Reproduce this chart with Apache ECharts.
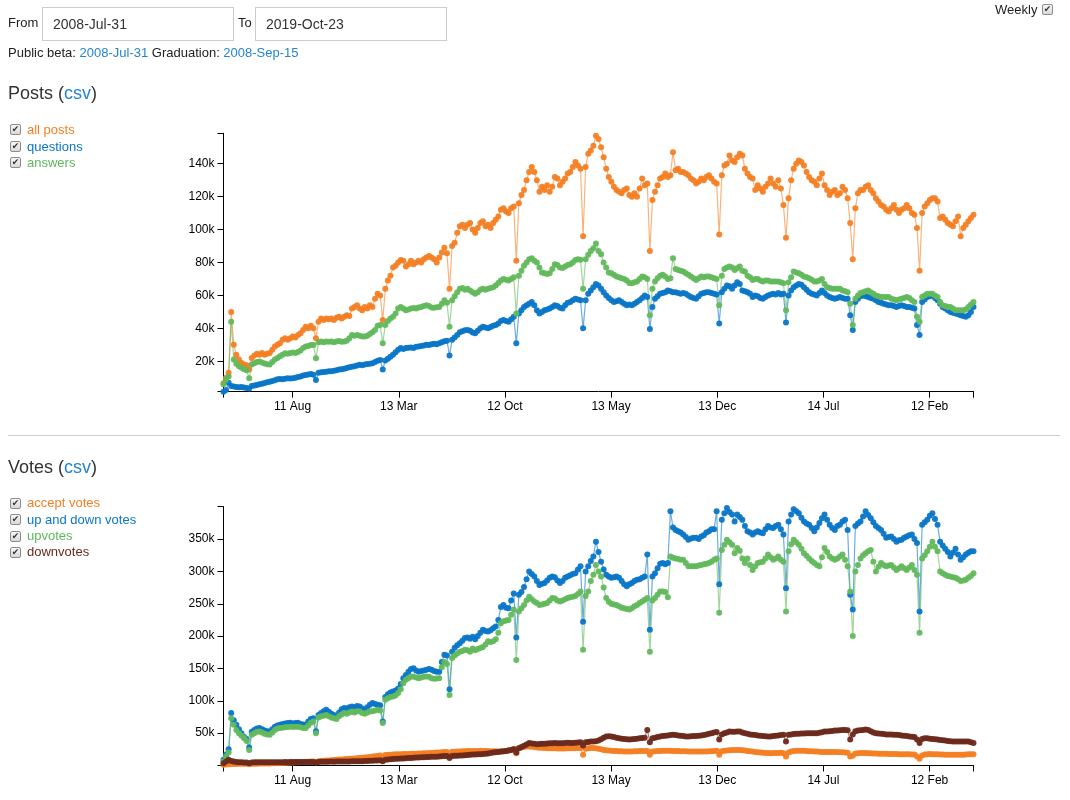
<!DOCTYPE html>
<html><head><meta charset="utf-8">
<script src="https://cdn.jsdelivr.net/npm/echarts@6/dist/echarts.min.js"></script>
<style>
body{margin:0;background:#fff;font-family:"Liberation Sans",Arial,sans-serif;color:#222;}
#chart{position:absolute;left:0;top:0;width:1070px;height:800px;z-index:0;}
.t{position:absolute;white-space:nowrap;z-index:1;}
.box{position:absolute;z-index:1;box-sizing:border-box;border:1px solid #ccc;font-size:14px;color:#333;padding-left:10px;line-height:32px;}
.cb{position:absolute;z-index:1;width:11px;height:11px;box-sizing:border-box;border:1px solid #8c8c8c;border-radius:2px;background:linear-gradient(#f6f6f6,#d9d9d9);font-size:9px;line-height:9px;text-align:center;color:#333;font-family:"DejaVu Sans",sans-serif;}
.lnk{color:#2484d2;}
.h{font-size:18px;color:#333;line-height:22px;}
.lg{font-size:13px;line-height:16px;}
#hr{position:absolute;left:8px;top:435px;width:1052px;height:0;border-top:1px solid #ccc;z-index:1;}
</style></head><body>
<div id="chart"></div>
<div class="t" style="left:8px;top:15px;font-size:13px;line-height:16px;">From</div>
<div class="box" style="left:42px;top:7px;width:192px;height:34px;">2008-Jul-31</div>
<div class="t" style="left:238px;top:15px;font-size:13px;line-height:16px;">To</div>
<div class="box" style="left:255px;top:7px;width:192px;height:34px;">2019-Oct-23</div>
<div class="t" style="left:8px;top:45px;font-size:13px;line-height:16px;">Public beta: <span class="lnk">2008-Jul-31</span> Graduation: <span class="lnk">2008-Sep-15</span></div>
<div class="t" style="left:995px;top:2px;font-size:13px;line-height:16px;">Weekly</div>
<div class="cb" style="left:1042px;top:4px;">✔</div>

<div class="t h" style="left:8px;top:82px;">Posts (<span class="lnk">csv</span>)</div>
<div class="cb" style="left:10px;top:124px;">✔</div><div class="t lg" style="left:27px;top:122px;color:#f48024;">all posts</div>
<div class="cb" style="left:10px;top:141px;">✔</div><div class="t lg" style="left:27px;top:139px;color:#0a76c8;">questions</div>
<div class="cb" style="left:10px;top:157px;">✔</div><div class="t lg" style="left:27px;top:155px;color:#5cb85c;">answers</div>

<div id="hr"></div>

<div class="t h" style="left:8px;top:456px;">Votes (<span class="lnk">csv</span>)</div>
<div class="cb" style="left:10px;top:498px;">✔</div><div class="t lg" style="left:27px;top:495px;color:#f48024;">accept votes</div>
<div class="cb" style="left:10px;top:514px;">✔</div><div class="t lg" style="left:27px;top:512px;color:#0a76c8;">up and down votes</div>
<div class="cb" style="left:10px;top:531px;">✔</div><div class="t lg" style="left:27px;top:528px;color:#5cb85c;">upvotes</div>
<div class="cb" style="left:10px;top:547px;">✔</div><div class="t lg" style="left:27px;top:544px;color:#6b2a1c;">downvotes</div>

<script>
// biweekly samples (every 14 days) starting 2008-07-31, values in thousands
const startDate = '2008-07-31';
const stepDays = 14;
const allPosts = [
6.6,10,13,50,30,24,21,19,18,17.5,
15,22,23.5,24.5,24,25,24,24.5,25,27,
29,30,31,33,34,33,34,35,34.5,36,
37,39,41,40,41.5,40,34,44,46,45,
46,45.5,46,45,46.5,47,46,47,48,47.5,
52,53,54,52,51,53,52,54,53,58,
61,60,45,64,69,72,77,78,80,81.5,
81,77.5,79,81,79,80,81,80,82,83,
84,83,82,80,83,86,89,85.6,64,90,
92,98,102,103,101,103,104,100,98,101,
104,105,102,103,101,104,106,108,112,113,
111,110,113,114,81,116,121,124,130,135,
138,135,130,123,126,124,127,123,126,132,
131,127,129,131,134,135,138,141,139,137,
96,138,146,148,151,157,155,150,144,137,
132,129,126,124,123,122,124,125,121,120,
122,120,125,131,127,128,87,118,123,127,
131,132,134,132,133,147,136,137,135,135,
134,133,131,130,128,129,131,130,132,133,
131,129,128,97,133,139,140,145,142,141,
144,146,145,137,134,132,131,124,127,125,
123,126,128,131,128,126,130,125,115,95,
119,130,137,140,142,141,139,135,132,130,
129,127,131,134,127,124,121,123,124,121,
122,126,124,119,104,82,113,122,124,124,
126,127,124,122,119,117,115,114,112,111,
113,115,112,110,112,113,115,113,110,109,
101,75,110,114,116,118,119,119,117,107,
108,106,104,103,102,105,108,96,101,103,
105,107,109];
const questions = [
1.5,2.5,7,5,4.6,4.4,4.2,4.3,4.0,3.8,
3.4,5,5.3,5.6,6,6.4,6.8,7.2,7.6,8,
8.5,9,9.2,9.1,9.4,9.6,9.5,9.7,10,10.5,
10.8,11.3,11.6,12,12.2,11.8,8.6,13,13.3,13.5,
13.6,13.9,14,14.3,14.6,15,15.2,15.5,15.9,16.3,
16.6,17,17.4,17.8,17.6,18,18.3,18.5,18.8,19.5,
20.3,20.8,15,20.5,21.5,22.8,24,25.5,27,28,
27.5,28,28.2,28.4,28,28.8,29,29.3,29.6,30,
29.8,30.3,30.6,30.4,31,31.5,32.2,32.5,23.5,33,
34.5,36,37.6,38.3,38.8,39,38.5,37.5,37,38.5,
40,41,40.5,40,40.8,41.5,42,43,44.5,45,
44.5,44,45.5,47,31,49,51,53,54,55,
56,54,51,49,50,51,51.5,52,53,54,
53.5,52.5,52,54,55.5,56,57,58,57.5,57,
40,57,61,63,65,67,66,64,62,60,
58.5,57,56,56.5,57,56,55,54,54.5,54,
55,56,57,58.5,60,59,39.6,53,58,59.5,
61,61.5,62,63,62.5,62,62,61.5,61,61.5,
61,60,59,58.5,58,59.5,61,61.5,62,62,
61.5,61,60.5,43,62,64,66,65.5,64,66,
68,67,63,62.5,62,61,59,60,59.5,58.5,
58,59,60,60.5,61,60.5,61.5,60.5,61,43.5,
60,63,65,66,67,66.5,65,63.5,62,61,
60.5,60,61.5,63,61.5,60,59,58.5,58,58.5,
59,58.5,58,58,48,39,56,58,59.5,60,
59.5,59,58.5,58,57,56,55.5,55,54.5,54,
54,53.5,53,53.5,54,53.5,53,53,52.5,52,
42,36,56,57.5,59,59.5,60,58.5,57,55,
53,52,51,50,49.5,49,48.5,48,47.5,47,
48,50,53];
const answers = [
6,8.7,10.7,44,21,18.5,17,16,15.2,14.5,
9.6,18,18.8,19.5,19.8,19.2,18.6,18.2,18,19.5,
21,22,23,24,24.8,24.5,25,25.3,25,25.6,
26.5,28,28.9,29.3,29.8,29.9,21.8,31.5,32,31.5,
32,31.8,32,31.5,32,32.3,31.8,32,32.5,34,
36,35.5,36,35.5,35,35,35.5,36.5,37.6,39,
41.5,42,31,42,44.5,46,47,49,52,53,
52,51,51.5,52,52.3,52,52.6,53,53.5,54,
53.5,52.6,52.5,52.8,53,55,57,55.5,41,57,
59.5,62,64,64.5,63.5,64,63,62,61,62,
63.5,64,63.5,64,64.5,65,66,67.5,69,70,
69.5,69,70,71,49,72,75,78,80,82,
82.6,81,80,77,74,73.5,73,73.5,76,79,
78.5,77,76.6,77.5,78.5,79,80,81.5,82,81.6,
64,82,84.7,87,88.7,91.5,87,85,80,77,
74,73.5,72.5,71.5,71,70.5,70,69,67.5,67.4,
68,68.4,70,71.5,71,70,48,64,68.4,70.5,
72,72.5,71.5,70,70.5,82.6,76,75.5,75,74.5,
73.5,72.5,71.5,70.5,69.4,70.5,71.5,71,71.5,71.5,
71,70.5,70,54,72,76,77,77.6,77,75.5,
76.5,77.6,75,74.5,72,71,69.4,70,70,69,
68.4,69,69,68.4,68.5,68.4,68.4,68,67.4,51,
68,71,74.5,74,73.5,72.5,71.5,71,70.5,69.5,
68.5,68.4,69,70,67,65,64.5,64,64,64,
64,63,62.5,62,55,42,58,60,61.5,62,
62.5,63,62,61,60,59.5,59,59,59,59,
58,57.5,57,57.5,58,58.5,59,58.5,57,56,
47,44,59,60,61,61,61,60,59,56,
54,53.5,53,53,52,51,51,51,51,51.5,
53,54.5,56];
const acceptVotes = [
1,1.5,2,2.3,2.5,2.5,2.6,2.6,2.6,2.6,
2,2.7,2.7,2.8,2.9,3,3,3.1,3.2,3.3,
3.4,3.6,3.7,3.9,4.1,4.3,4.5,4.7,4.9,5.1,
5.3,5.5,5.7,5.9,6.1,6.2,5,6.5,6.8,7.2,
7.6,7.9,8.2,8.5,8.8,9.1,9.4,9.7,10,10.3,
10.6,10.9,11.2,11.5,11.9,12.3,12.8,13.3,13.8,14.3,
14.8,15.3,12,16.2,16.5,16.8,17,17.2,17.4,17.5,
17.6,17.8,17.9,18,18.1,18.3,18.5,18.7,18.9,19.1,
19.3,19.5,19.7,19.9,20.1,20.4,20.7,20.9,16,21.2,
21.4,21.6,21.8,22,22.2,22.3,22.4,22.5,22.5,22.6,
22.7,22.6,22.5,22.3,22.2,22,21.9,21.8,21.7,21.7,
22.5,23.5,24.5,25.5,19,26.8,27.8,28.6,29.2,29.4,
29,28.5,28,27.6,27.3,27,26.8,26.7,26.6,26.5,
26.3,26.2,26.3,26.4,26.5,26.6,26.7,26.8,27,27.2,
16.5,26,26.5,27,27.2,26.8,26,25,24,23.5,
23,22.7,22.5,22.3,22,21.9,21.8,21.7,21.7,21.8,
22,22.2,22.3,22.5,22.6,22.5,16.5,21.5,22,22.3,
22.5,22.7,22.8,22.8,22.7,22.6,22.5,22.3,22.2,22,
21.9,21.8,21.7,21.7,21.7,21.7,21.7,21.7,21.8,22,
22.2,22.5,22.7,16.5,22,22.7,23.2,23.6,23.8,24,
24,23.8,23.5,23,22.5,22,21.5,21,20.5,20.2,
19.8,19.5,19.2,19,19.2,19.4,19.5,19.6,19,14,
20,21.5,22.3,22.7,22.7,22.7,22.7,22.5,22.2,22,
21.7,21.5,21.2,21,20.9,20.8,20.7,20.7,20.7,20.7,
20.5,20.3,20,19.6,14,15,18.5,19,19.2,19.3,
19.2,19,18.8,18.6,18.4,18.3,18.2,18.1,18,17.9,
17.8,17.7,17.6,17.5,17.5,17.4,17.3,17.2,17.1,17,
14,10.4,15.5,17,17.5,17.6,17.5,17.5,17.3,17.1,
16.9,16.7,16.6,16.5,16.5,16.5,16.6,16.7,16.8,17,
17.2,17.4,17.5];
const upDownVotes = [
9,17,25,81,70,63,56,50,44,41,
28,52,55,57,58,56,54,53,52.6,56,
60,62,63,64,65,65.5,66,65,65.5,66,
64,63.5,63,68,72,73,53,78,81,84,
86,83,80,78,76,82,87,89,88,90,
91,90,92,91,88,86,90,94,96.5,95,
94,93,68,106,110,113,114.5,116,119,126,
135,140,145,149,150.5,147,145,146,147,148,
149,148,146,145,145,160,171,170,118,176,
182,186,189,193,197,198,196,199,195,200,
205,210,208,207,209,212,215,225,245,248,
244,243,255,266,198,264,268,276,288,300,
296,292,285,279,281,282,286,290,292,291,
286,282,285,290,292,294,296,297,303,308,
222,300,308,316,323,346,330,315,303,295,
292,290,291,292,290,285,280,277,280,282,
285,287,288,290,292,326,210,292,297,305,
312,313,311,313,393,368,364,362,360,357,
353,349,351,352,352,350,354,356,360,362,
365,365,393,280,380,390,398,392,388,377,
388,384,380,370,362,360,357,360,362,360,
359,365,370,368,367,370,372,365,357,274,
377,388,396,393,390,383,377,374,372,367,
362,368,375,382,388,380,372,367,364,370,
372,377,380,364,264,241,370,374,377,385,
393,387,382,376,370,367,364,358,352,353,
354,350,346,348,349,352,354,356,357,350,
344,238,372,376,380,386,390,381,372,346,
340,335,330,323,329,335,326,318,322,326,
329,331,331];
const upVotes = [
6,14,20,73,63,55,50,46,42,38,
24,47.5,50,52,52.6,51,49,48,47.5,51,
55,57,57.8,58.5,59,59.5,60,59.5,60,60,
59,58,57.8,62,66,68,50,74,76,77,
78,76,74,73,72,76,79,81,80,82,
83.5,82,84,83.5,81,80,82,83.5,84,85,
86,85,65.5,101.6,104,106,106.7,108,112,118,
127,132.5,135,137,137.6,136,135,136,137,137.6,
137,135,134,134.5,135,152,160,157,109,166,
170,173,176,177,179,178,176,181,178,180,
181.5,183,187,192,191,192,195,205,220,223,
224,225,233,241,163,238,243,248,255,261,
257,253.6,251,248,249,250,251,255,259,258,
255,253.6,255,257,259,260,261,262,265,269,
179,262,269,285,295,310,300,292,275,259,
253,250,249,248,246,244,243,242,241,243,
246,248,251,253.6,256,259,176,255,259,264,
269,269,268,260,323,321,320,319,318,318,
313,308,308,308,308,309,310,311,312,313,
315,318,320,236,333,341,349,345,341,328,
336,332,320,313,320,310,302,308,313,314,
315,320,326,322,318,320,323,318,315,238,
331,342,349,345,341,335,328,324,320,316,
313,310,308,322,336,330,323,320,318,320,
323,326,318,308,269,200,300,310,320,325,
328,331,333,315,300,307,313,310,308,309,
310,306,302,305,308,305,302,306,310,302,
295,205,320,325,331,338,346,338,331,300,
297,295,293,292,291,290,288,285,286,287,
290,293,297];
const downVotes = [
3.6,6,8.8,7,6,5.5,5,5,4.8,4.7,
3.5,4.8,4.9,5,5,4.9,5,5,5.1,5,
5.1,5.2,5.1,5.2,5.3,5.2,5.3,5.4,5.3,5.4,
5.5,5.4,5.5,5.6,5.5,5.6,4.5,5.6,5.7,5.8,
5.8,5.9,6,5.9,6,6.1,6,6.2,6.3,6.2,
6.4,6.5,6.4,6.6,6.7,6.8,7,7.2,7.4,7.6,
7.9,8.1,6.5,8.7,9.2,9.6,10,10.3,10.6,10.8,
11,11.2,11.4,11.7,12,12.2,12.5,12.7,12.9,13.1,
13.3,13.4,13.6,13.7,13.9,14.2,14.5,14.6,11.5,14.8,
15,15.2,15.4,15.6,15.8,16.2,16.5,16.9,17.1,17.3,
17.5,17.7,18,18.6,19.3,20,20.6,21,21.5,22,
22.6,23.3,24,25,20,26.8,28.5,30.5,32.5,34.6,
34,33.5,33,33.2,33.5,33.8,34,34.3,34.5,34.6,
34.4,34.2,34.5,34.8,35,34.8,34.6,35,35.5,36,
31,36,36.5,37,37,37.5,38.5,40.5,43,45,
45.3,45,44,43,42,41.5,41,40.5,40,40.5,
41,41.5,42,42.5,43,55,36,42,43,44,
45,45.5,46,46.5,47,47.5,47,46.5,46,45.5,
45,45,45.3,45.5,45.7,46,46.5,47,48,49,
50,51,51.6,40,48,50,51,52.6,52,52.3,
52.6,52.6,51,50,49,48,47.5,47,46.5,46,
45.5,45.3,45,45,45.5,46,46.5,47,47.5,37,
47.5,48,48.5,49,49,49.5,49.5,50,50,50,
50,50,50.5,51.5,52.5,52.6,53,53.5,54,54,
54.5,55,55,54.5,40,48,53,54,54.5,55,
55.5,55,53,51,50,49.5,49,48.5,48,48,
47.8,47.6,47.5,47,46.5,46,45.5,45,44.5,44,
40,34.6,41,42,42,41.5,41,40.5,40,39.5,
39,38.5,38,37.5,37,37,37,37,37,37,
37,36,34.6];
// x tick positions (unix seconds) and their labels
const xTickSeconds = [1.25e9, 1.30e9, 1.35e9, 1.40e9, 1.45e9, 1.50e9, 1.55e9];
const xTickLabels = ['11 Aug', '13 Mar', '12 Oct', '13 May', '13 Dec', '14 Jul', '12 Feb'];
const postsYTicks = [20, 40, 60, 80, 100, 120, 140];
const votesYTicks = [50, 100, 150, 200, 250, 300, 350];

const DAY = 86400000;
const t0 = Date.parse(startDate + 'T00:00:00Z');
const nPts = allPosts.length;
const dates = allPosts.map((_, i) => t0 + i * stepDays * DAY);
const xMin = dates[0], xMax = dates[nPts - 1];
const xTickMs = xTickSeconds.map(s => s * 1000);

const C = {orange:'#f48024', blue:'#0a76c8', green:'#62b95c', brown:'#6b2a1c'};
const FONT = '"Liberation Sans", Arial, sans-serif';

function xAxis(gi) {
  return {
    type: 'value', gridIndex: gi, min: xMin, max: xMax,
    axisLine: {show: true, lineStyle: {color: '#000', width: 1}},
    axisTick: {show: true, length: 6, inside: false, customValues: [xMin].concat(xTickMs, [xMax]), lineStyle: {color: '#000'}},
    axisLabel: {show: true, customValues: xTickMs, margin: 9, color: '#000', fontSize: 12, fontFamily: FONT,
      formatter: v => { const k = xTickMs.findIndex(t => Math.abs(t - v) < 1000); return k >= 0 ? xTickLabels[k] : ''; }},
    splitLine: {show: false}
  };
}
function yAxis(gi, mn, mx, ticks) {
  return {
    type: 'value', gridIndex: gi, min: mn, max: mx,
    axisLine: {show: true, lineStyle: {color: '#000', width: 1}},
    axisTick: {show: true, length: 6, inside: false, customValues: [mn].concat(ticks, [mx]), lineStyle: {color: '#000'}},
    axisLabel: {show: true, customValues: ticks, margin: 9, color: '#000', fontSize: 12, fontFamily: FONT,
      formatter: v => v + 'k'},
    splitLine: {show: false}
  };
}
function ser(name, arr, color, gi) {
  return {
    name, type: 'line', xAxisIndex: gi, yAxisIndex: gi,
    data: arr.map((v, i) => [dates[i], v]),
    symbol: 'circle', symbolSize: 6, showSymbol: true,
    lineStyle: {color, width: 1.2, opacity: 0.6},
    itemStyle: {color, opacity: 0.95, borderWidth: 0},
    emphasis: {disabled: true}, animation: false
  };
}

const chart = echarts.init(document.getElementById('chart'), null, {renderer: 'canvas'});
chart.setOption({
  animation: false,
  backgroundColor: 'transparent',
  grid: [
    {left: 223.5, right: 96.5, top: 133.3, height: 258.4, containLabel: false},
    {left: 223.5, right: 96.5, top: 506.7, height: 258.8, containLabel: false}
  ],
  xAxis: [xAxis(0), xAxis(1)],
  yAxis: [yAxis(0, 1.5, 158.5, postsYTicks), yAxis(1, 0, 400, votesYTicks)],
  series: [
    ser('all posts', allPosts, C.orange, 0),
    ser('questions', questions, C.blue, 0),
    ser('answers', answers, C.green, 0),
    ser('accept votes', acceptVotes, C.orange, 1),
    ser('up and down votes', upDownVotes, C.blue, 1),
    ser('upvotes', upVotes, C.green, 1),
    ser('downvotes', downVotes, C.brown, 1)
  ]
});
const lens = [allPosts, questions, answers, acceptVotes, upDownVotes, upVotes, downVotes].map(a => a.length);
if (lens.some(l => l !== 293)) setTimeout(() => { throw new Error('length mismatch ' + lens.join(',')); }, 0);
</script>
</body></html>
